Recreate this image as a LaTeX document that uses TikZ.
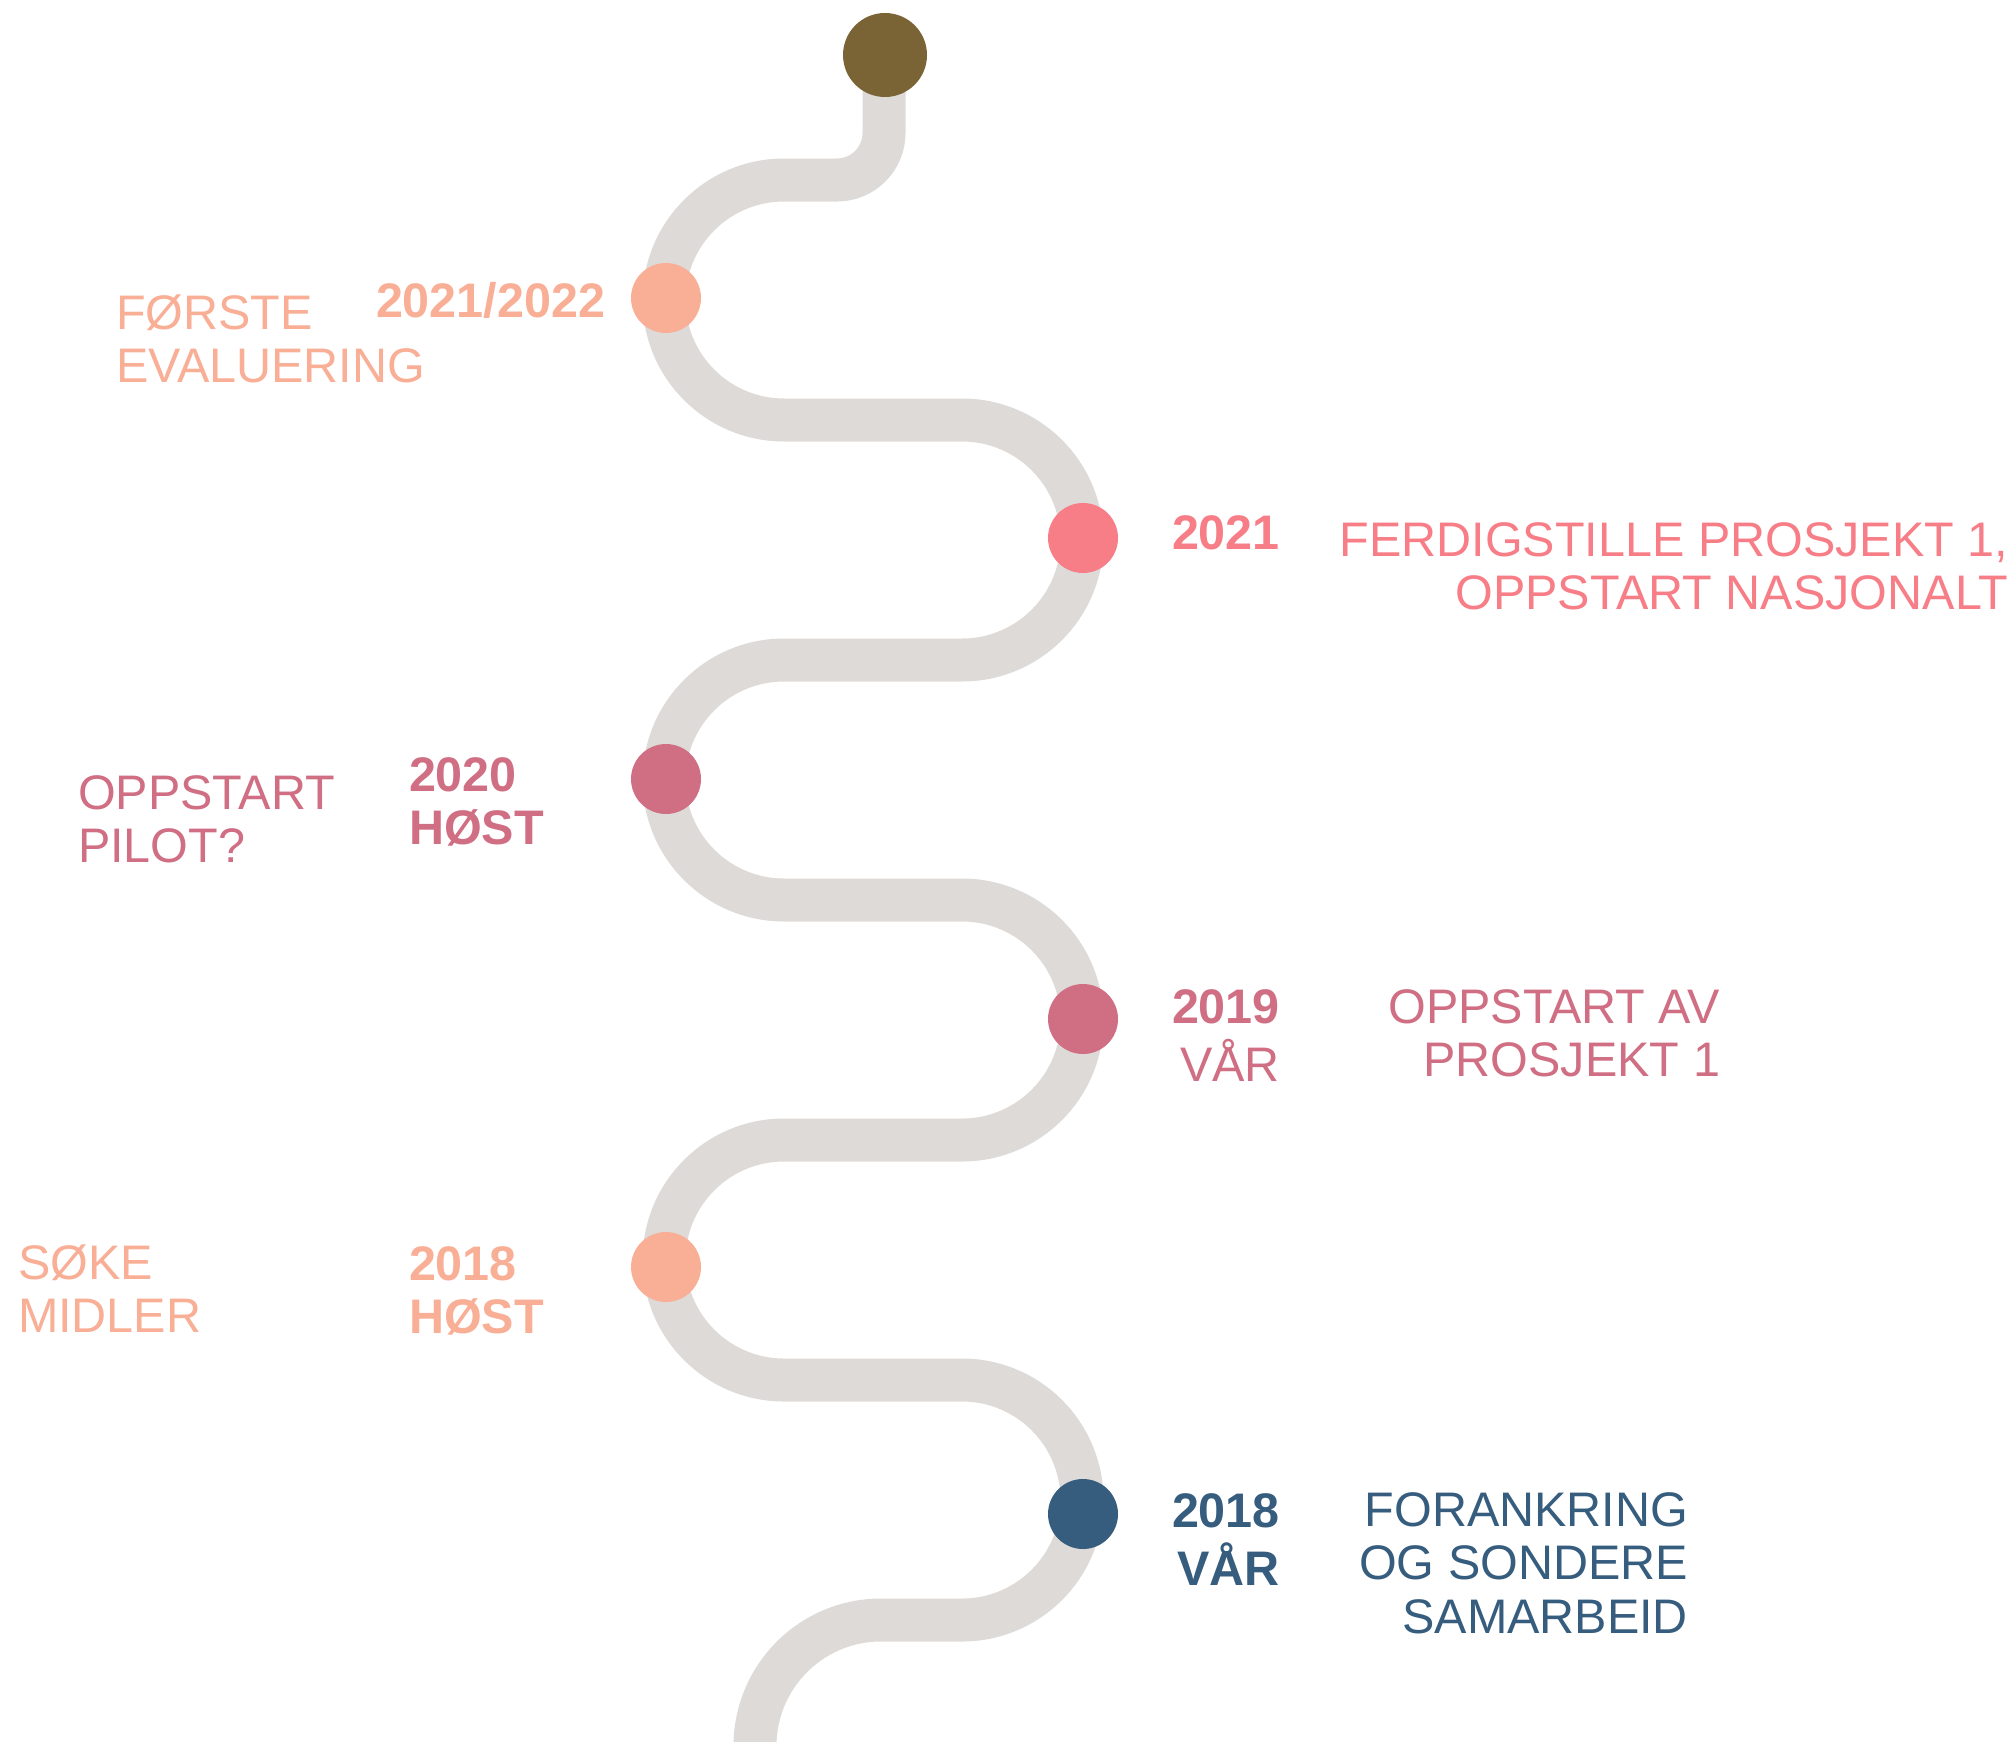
\documentclass[tikz,border=0pt]{standalone}
\usepackage{fontspec}
\setmainfont{Liberation Sans}
\definecolor{track}{HTML}{DEDAD8}
\definecolor{peach}{HTML}{F9AE96}
\definecolor{coral}{HTML}{F77D87}
\definecolor{rose}{HTML}{D06E83}
\definecolor{navy}{HTML}{365D7E}
\definecolor{olive}{HTML}{7A6435}
\begin{document}
\begin{tikzpicture}[x=1pt,y=-1pt,
  dot/.style={circle,inner sep=0pt,minimum size=70pt},
  lbl/.style={inner sep=0pt,outer sep=0pt,anchor=base west,font=\fontsize{48.5}{53.5}\selectfont},
  rlbl/.style={lbl,anchor=base east},
  yr/.style={inner sep=0pt,outer sep=0pt,anchor=base west,font=\fontsize{48.5}{53.5}\selectfont\bfseries},
  trackline/.style={draw=track,line width=43pt}]
\useasboundingbox (0,0) rectangle (2015,1742);
\clip (0,0) rectangle (2015,1742);
% winding track
\draw[trackline] (884,55) -- (884,133) arc[start angle=0,end angle=90,radius=47]
  -- (784,180) arc[start angle=270,end angle=90,radius=120]
  -- (962,420) arc[start angle=-90,end angle=90,radius=120]
  -- (784,660) arc[start angle=270,end angle=90,radius=120]
  -- (962,900) arc[start angle=-90,end angle=90,radius=120]
  -- (784,1140) arc[start angle=270,end angle=90,radius=120]
  -- (962,1380) arc[start angle=-90,end angle=90,radius=120]
  -- (881,1620) arc[start angle=270,end angle=180,radius=126] -- ++(0,80);
% dots
\node[circle,inner sep=0pt,minimum size=84pt,fill=olive] (top) at (885,55) {};
\node[dot,fill=peach] (d1) at (666,298) {};
\node[dot,fill=coral] (d2) at (1083,538) {};
\node[dot,fill=rose] (d3) at (666,779) {};
\node[dot,fill=rose] (d4) at (1083,1019) {};
\node[dot,fill=peach] (d5) at (666,1267) {};
\node[dot,fill=navy] (d6) at (1083,1514) {};
% labels
\node[yr,text=peach] (y1) at (376,317) {2021/2022};
\node[lbl,text=peach] (t1) at (116,329) {\begin{tabular}[t]{@{}l@{}}FØRSTE\\EVALUERING\end{tabular}};
\node[yr,text=coral] (y2) at (1172,549) {2021};
\node[rlbl,text=coral] (t2) at (2008,556) {\begin{tabular}[t]{@{}r@{}}FERDIGSTILLE PROSJEKT 1,\\OPPSTART NASJONALT\end{tabular}};
\node[yr,text=rose] (y3) at (409,791) {\begin{tabular}[t]{@{}l@{}}2020\\HØST\end{tabular}};
\node[lbl,text=rose] (t3) at (78,809) {\begin{tabular}[t]{@{}l@{}}OPPSTART\\PILOT?\end{tabular}};
\node[lbl,text=rose] (y4) at (1172,1023) {\begin{tabular}[t]{@{}r@{}}\textbf{2019}\\VÅR\end{tabular}};
\node[rlbl,text=rose] (t4) at (1720,1023) {\begin{tabular}[t]{@{}r@{}}OPPSTART AV\\PROSJEKT 1\end{tabular}};
\node[yr,text=peach] (y5) at (409,1280) {\begin{tabular}[t]{@{}l@{}}2018\\HØST\end{tabular}};
\node[lbl,text=peach] (t5) at (18,1279) {\begin{tabular}[t]{@{}l@{}}SØKE\\MIDLER\end{tabular}};
\node[yr,text=navy] (y6) at (1172,1527) {\begin{tabular}[t]{@{}r@{}}2018\\VÅR\end{tabular}};
\node[rlbl,text=navy] (t6) at (1688,1526) {\begin{tabular}[t]{@{}r@{}}FORANKRING\\OG SONDERE\\SAMARBEID\end{tabular}};
\end{tikzpicture}
\end{document}
